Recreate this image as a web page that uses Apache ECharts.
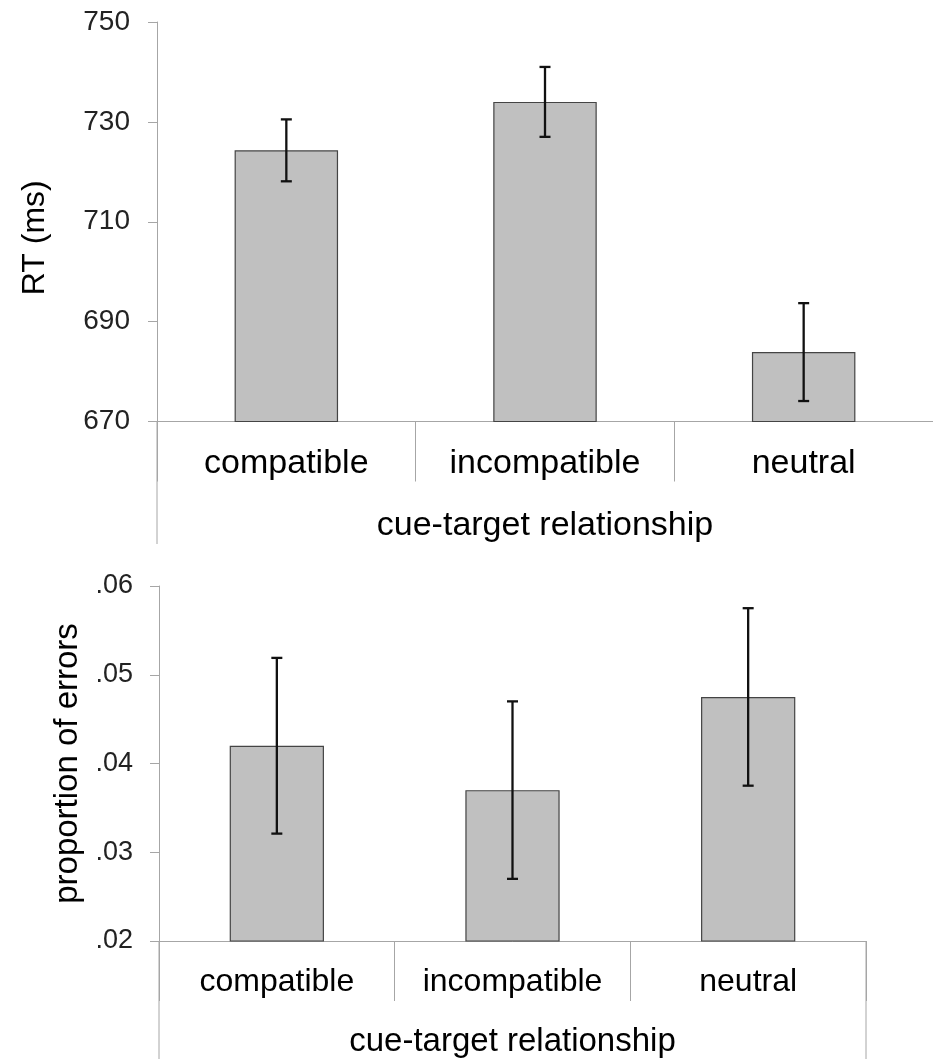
<!DOCTYPE html>
<html>
<head>
<meta charset="utf-8">
<script src="https://cdn.jsdelivr.net/npm/echarts@6/dist/echarts.min.js"></script>
<style>
html,body{margin:0;padding:0;background:#fff;}
#main{width:933px;height:1059px;}
</style>
</head>
<body>
<div id="main"></div>
<script>
// ---- data ----
const categories = ['compatible', 'incompatible', 'neutral'];
const rtMeans = [724.3, 734.0, 683.9];
const rtErrors = [6.2, 7.0, 9.8];
const errMeans = [0.0420, 0.0370, 0.0475];
const errErrors = [0.0099, 0.0100, 0.0100];
const rtTicks = [670, 690, 710, 730, 750];
const errTickValues = [0.02, 0.03, 0.04, 0.05, 0.06];
const errTickLabels = ['.02', '.03', '.04', '.05', '.06'];
const xAxisName = 'cue-target relationship';
const rtAxisName = 'RT (ms)';
const errAxisName = 'proportion of errors';

// ---- layout ----
const FONT = '"Liberation Sans", Arial, Helvetica, sans-serif';
const AXIS_COLOR = '#a6a6a6';
const G0 = {left: 157, top: 22, width: 778, height: 399.5};
const G1 = {left: 159, top: 586, width: 707, height: 355};

const rtBand = rtMeans.map((m, i) => [i, m - rtErrors[i], m + rtErrors[i]]);
const errBand = errMeans.map((m, i) => [i, m - errErrors[i], m + errErrors[i]]);

function errorBarRender(params, api) {
  const x = api.value(0);
  const lo = api.coord([x, api.value(1)]);
  const hi = api.coord([x, api.value(2)]);
  const half = 5.5;
  const style = {stroke: '#111', lineWidth: 2.3};
  return {
    type: 'group',
    children: [
      {type: 'line', shape: {x1: hi[0], y1: hi[1], x2: lo[0], y2: lo[1]}, style: style},
      {type: 'line', shape: {x1: hi[0] - half, y1: hi[1], x2: hi[0] + half, y2: hi[1]}, style: style},
      {type: 'line', shape: {x1: lo[0] - half, y1: lo[1], x2: lo[0] + half, y2: lo[1]}, style: style}
    ]
  };
}

function xAxisCfg(gridIndex, labelSize, nameSize, nameGap) {
  return {
    type: 'category',
    gridIndex: gridIndex,
    data: categories,
    boundaryGap: true,
    axisLine: {show: true, lineStyle: {color: AXIS_COLOR, width: 1}},
    axisTick: {show: true, length: 60, alignWithLabel: false, lineStyle: {color: AXIS_COLOR, width: 1}},
    axisLabel: {margin: 25, fontSize: labelSize, color: '#000', fontFamily: FONT},
    splitLine: {show: false},
    name: xAxisName,
    nameLocation: 'middle',
    nameGap: nameGap,
    nameTextStyle: {fontSize: nameSize, color: '#000', fontFamily: FONT}
  };
}

const option = {
  backgroundColor: '#fff',
  animation: false,
  textStyle: {fontFamily: FONT},
  grid: [
    Object.assign({containLabel: false}, G0),
    Object.assign({containLabel: false}, G1)
  ],
  xAxis: [
    xAxisCfg(0, 34, 34, 87),
    xAxisCfg(1, 32, 33, 84)
  ],
  yAxis: [
    {
      type: 'value',
      gridIndex: 0,
      min: rtTicks[0],
      max: rtTicks[rtTicks.length - 1],
      interval: rtTicks[1] - rtTicks[0],
      axisLine: {show: true, lineStyle: {color: AXIS_COLOR, width: 1}},
      axisTick: {show: true, length: 9, lineStyle: {color: AXIS_COLOR, width: 1}},
      axisLabel: {margin: 27, fontSize: 28, color: '#222', fontFamily: FONT},
      splitLine: {show: false},
      name: rtAxisName,
      nameLocation: 'middle',
      nameGap: 106,
      nameTextStyle: {fontSize: 32, color: '#000', fontFamily: FONT, padding: [0, 32, 0, 0]}
    },
    {
      type: 'value',
      gridIndex: 1,
      min: errTickValues[0],
      max: errTickValues[errTickValues.length - 1],
      interval: 0.01,
      axisLine: {show: true, lineStyle: {color: AXIS_COLOR, width: 1}},
      axisTick: {show: true, length: 9, lineStyle: {color: AXIS_COLOR, width: 1}},
      axisLabel: {
        margin: 26, fontSize: 27, color: '#222', fontFamily: FONT,
        formatter: function (v) {
          let best = 0;
          errTickValues.forEach((t, i) => { if (Math.abs(t - v) < Math.abs(errTickValues[best] - v)) best = i; });
          return errTickLabels[best];
        }
      },
      splitLine: {show: false},
      name: errAxisName,
      nameLocation: 'middle',
      nameGap: 71,
      nameTextStyle: {fontSize: 33, color: '#000', fontFamily: FONT}
    }
  ],
  series: [
    {
      type: 'bar', xAxisIndex: 0, yAxisIndex: 0, data: rtMeans, barWidth: '40%',
      itemStyle: {color: '#c0c0c0', borderColor: '#444', borderWidth: 1.2}
    },
    {
      type: 'custom', xAxisIndex: 0, yAxisIndex: 0, data: rtBand, z: 5,
      encode: {x: 0, y: [1, 2]}, renderItem: errorBarRender
    },
    {
      type: 'bar', xAxisIndex: 1, yAxisIndex: 1, data: errMeans, barWidth: '40%',
      itemStyle: {color: '#c0c0c0', borderColor: '#444', borderWidth: 1.2}
    },
    {
      type: 'custom', xAxisIndex: 1, yAxisIndex: 1, data: errBand, z: 5,
      encode: {x: 0, y: [1, 2]}, renderItem: errorBarRender
    }
  ],
  graphic: [
    // y-axis lines continuing below the plot areas (frame decoration)
    {type: 'line', shape: {x1: G0.left, y1: G0.top + G0.height, x2: G0.left, y2: 544},
      style: {stroke: AXIS_COLOR, lineWidth: 1}, silent: true},
    {type: 'line', shape: {x1: G1.left, y1: G1.top + G1.height, x2: G1.left, y2: 1059},
      style: {stroke: AXIS_COLOR, lineWidth: 1}, silent: true},
    {type: 'line', shape: {x1: G1.left + G1.width, y1: G1.top + G1.height, x2: G1.left + G1.width, y2: 1059},
      style: {stroke: AXIS_COLOR, lineWidth: 1}, silent: true}
  ]
};

const chart = echarts.init(document.getElementById('main'), null, {renderer: 'canvas'});
chart.setOption(option);
</script>
</body>
</html>
